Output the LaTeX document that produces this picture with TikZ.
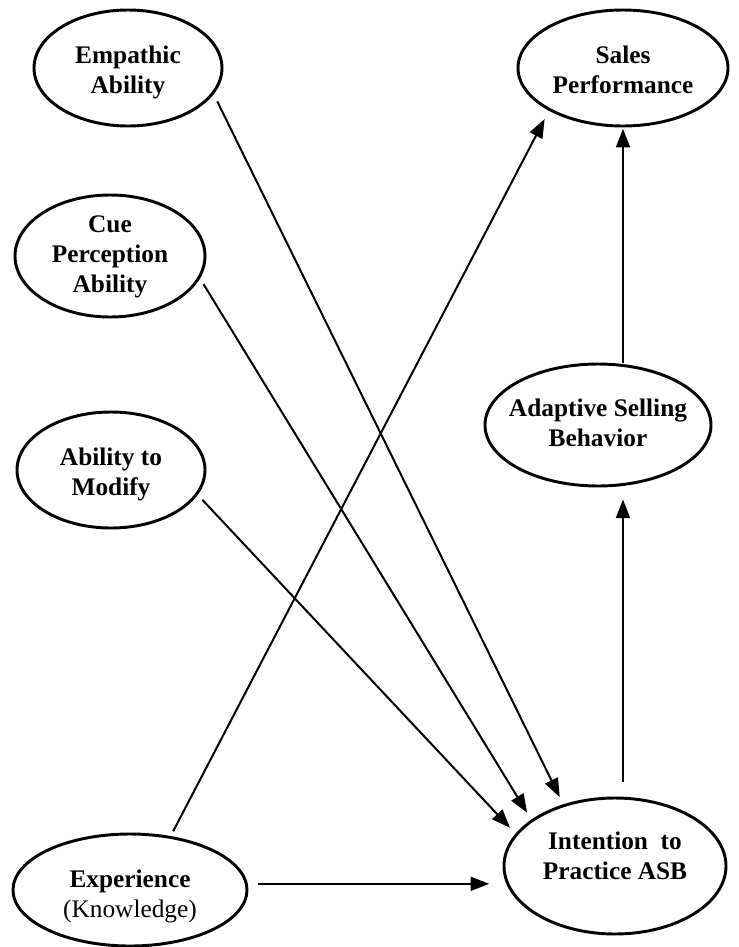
\documentclass[tikz,border=0pt]{standalone}
\usepackage{fontspec}
\setmainfont{Liberation Serif}
\usetikzlibrary{shapes.geometric, arrows.meta}
\newcommand{\ovaltext}[2]{\raisebox{#1}[\height][\depth]{\begin{tabular}{@{}c@{}}#2\end{tabular}}}
\begin{document}
\begin{tikzpicture}[x=0.75pt, y=-0.75pt,
  oval/.style={ellipse, draw, line width=2.2pt, inner xsep=-25pt, inner ysep=-8pt,
    font=\fontsize{19}{22.5}\selectfont\bfseries},
  arr/.style={line width=1.5pt, -{Triangle[length=14pt,width=10.5pt]}}]
\useasboundingbox (0,0) rectangle (739,947);
\node[oval, minimum width=141pt, minimum height=87pt] (emp) at (128,68) {\ovaltext{-3pt}{Empathic\\Ability}};
\node[oval, minimum width=157.5pt, minimum height=87pt] (sales) at (623,68) {\ovaltext{-3.4pt}{Sales\\Performance}};
\node[oval, minimum width=142.5pt, minimum height=91.5pt] (cue) at (110,256) {\ovaltext{0pt}{Cue\\Perception\\Ability}};
\node[oval, minimum width=141pt, minimum height=87pt] (mod) at (111,470) {\ovaltext{-3pt}{Ability to\\Modify}};
\node[oval, minimum width=169.5pt, minimum height=91.5pt] (asb) at (598,425) {\ovaltext{0pt}{Adaptive Selling\\Behavior}};
\node[oval, minimum width=175.5pt, minimum height=84pt] (exp) at (130,890) {\ovaltext{-5pt}{Experience\\\mdseries(Knowledge)}};
\node[oval, minimum width=166.5pt, minimum height=102pt] (int) at (615,866) {\ovaltext{5.5pt}{Intention~ to\\Practice ASB}};

\draw[arr, shorten <=6pt, shorten >=6pt] (emp.-17.5) -- (int.130);
\draw[arr, shorten <=5pt, shorten >=6pt] (cue.-14) -- (int.151.5);
\draw[arr, shorten <=5pt, shorten >=6pt] (mod.-16.4) -- (int.162.5);
\draw[arr, shorten <=4pt, shorten >=7pt] (exp.53.4) -- (sales.-150.5);
\draw[arr, shorten <=8pt, shorten >=10pt] (exp.3) -- (exp.3 -| int.west);
\draw[arr, shorten >=1pt] (sales.south |- asb.north) -- (sales.south);
\draw[arr, shorten <=11pt, shorten >=9pt] (sales.south |- int.north) -- (sales.south |- asb.south);
\end{tikzpicture}
\end{document}
